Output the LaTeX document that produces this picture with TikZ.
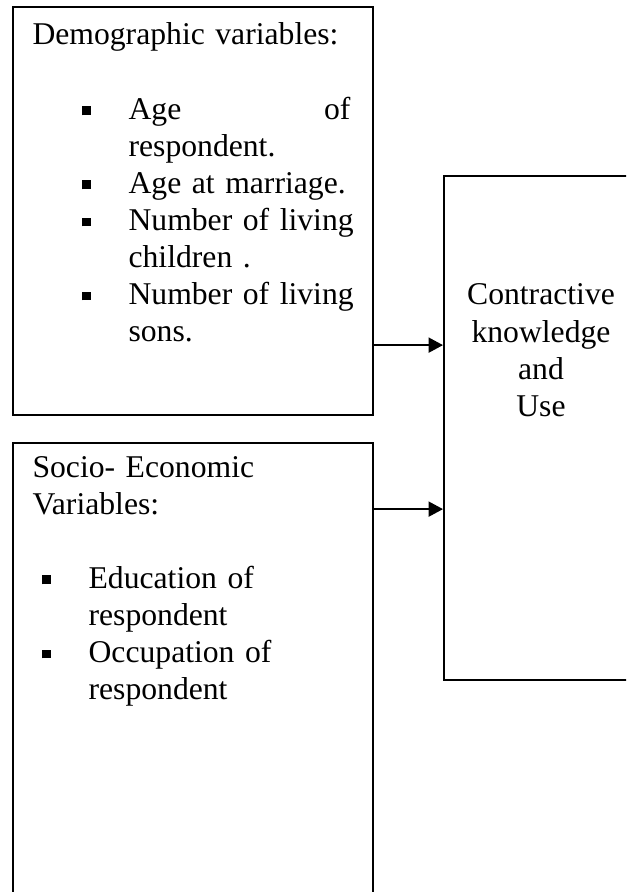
\documentclass[tikz,border=0pt]{standalone}
\usepackage{fontspec}
\setmainfont{Liberation Serif}
\usetikzlibrary{arrows.meta}

\newcommand{\sqbul}{\rule[1.4pt]{3.3pt}{3.3pt}}
\newcommand{\demoitem}{\hspace*{18.6pt}\makebox[17.2pt][l]{\sqbul}}
\newcommand{\demoskip}{\hspace*{35.8pt}}
\newcommand{\socioitem}{\hspace*{3.7pt}\makebox[17.2pt][l]{\sqbul}}
\newcommand{\socioskip}{\hspace*{20.9pt}}

\tikzset{
  box/.style = {draw, line width=0.75pt, inner sep=0pt, anchor=north west},
  txt/.style = {inner sep=0pt, text width=130pt, font=\fontsize{11.8}{13.8}\selectfont}
}

\begin{document}
\begin{tikzpicture}[>={Triangle[length=5.4pt,width=5.6pt]}, x=0.3727pt, y=-0.3727pt]
\useasboundingbox (0,0) rectangle (626,892);
\clip (0,0) rectangle (626,892);
%
\draw (12,6) node[box, minimum width=134.2pt, minimum height=152.1pt] (demo) {};
\draw (32,45) node[txt, anchor=base west, align=left] (demoText)
  {Demographic variables:\\[13.8pt]
   \demoitem\makebox[82.7pt]{Age\hfill of}\\
   \demoskip respondent.\\
   \demoitem Age at marriage.\\
   \demoitem Number of living\\
   \demoskip children .\\
   \demoitem Number of living\\
   \demoskip sons.};
%
\draw (demo.south west) ++ (0,26) node[box, minimum width=134.2pt, minimum height=171.4pt] (socio) {};
\draw (32,477) node[txt, anchor=base west, align=left] (socioText)
  {Socio- Economic\\
   Variables:\\[13.8pt]
   \socioitem Education of\\
   \socioskip respondent\\
   \socioitem Occupation of\\
   \socioskip respondent};
%
\draw (443,175) node[box, minimum width=73.4pt, minimum height=187.8pt] (outcome) {};
\draw (541,305) node[txt, anchor=base, text width=70pt, align=center] (outcomeText)
  {Contractive\\ knowledge\\ and\\ Use};
%
\path (demo.south east) ++ (0,-71) coordinate (demoOut);
\path[draw, line width=0.75pt, ->] (demoOut) -- (outcome.west |- demoOut);
\path (socio.north east) ++ (0,67) coordinate (socioOut);
\path[draw, line width=0.75pt, ->] (socioOut) -- (outcome.west |- socioOut);
\end{tikzpicture}
\end{document}
